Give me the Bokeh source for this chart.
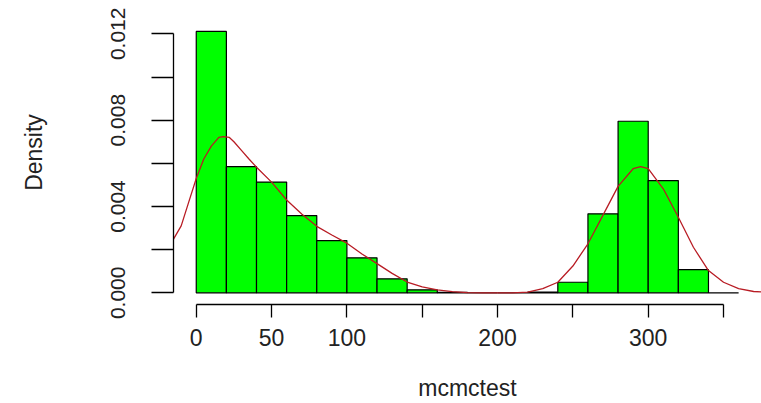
from bokeh.plotting import figure
from bokeh.models import FixedTicker, PrintfTickFormatter, Range1d
from bokeh.embed import file_html
from bokeh.resources import INLINE

# Histogram of mcmctest (density scale), bins of width 20
bin_left = [0, 20, 40, 60, 80, 100, 120, 140, 160, 180, 200, 220, 240, 260, 280, 300, 320, 340]
bin_right = [20, 40, 60, 80, 100, 120, 140, 160, 180, 200, 220, 240, 260, 280, 300, 320, 340, 360]
bin_density = [0.01211, 0.00585, 0.00513, 0.00358, 0.00242, 0.00162, 0.00065, 0.00014,
               0.00002, 0.0, 0.0, 0.00003, 0.00049, 0.00366, 0.00795, 0.0052, 0.00107, 0.0]

# Kernel density estimate (red curve)
kde_x = [-16, -15, -10, -5, 0, 5, 10, 15, 18, 22, 25, 30, 35, 40, 50, 60, 70, 80, 90, 100,
         110, 120, 130, 140, 150, 160, 170, 180, 190, 200, 210, 220, 230, 240, 250, 260,
         270, 280, 290, 295, 300, 310, 320, 330, 340, 350, 360, 370, 380]
kde_y = [0.0023, 0.0025, 0.0031, 0.0042, 0.0053, 0.0062, 0.0068, 0.0072, 0.00724, 0.0072,
         0.0070, 0.0066, 0.0062, 0.00582, 0.00513, 0.0043, 0.00365, 0.00308, 0.00268, 0.0023,
         0.0018, 0.00135, 0.0009, 0.0005, 0.00027, 0.00014, 0.00005, 0.00001, 0.0, 0.0,
         0.0, 0.00003, 0.00019, 0.00049, 0.00124, 0.00227, 0.0036, 0.00493, 0.00575, 0.00585,
         0.00575, 0.00482, 0.0035, 0.00211, 0.00103, 0.00049, 0.00019, 0.00006, 0.00002]

x_major = [0, 50, 100, 200, 300]
x_minor = [150, 250, 350]
y_major = [0.0, 0.004, 0.008, 0.012]
y_minor = [0.002, 0.006, 0.010]

FONT = "Liberation Sans"

p = figure(width=761, height=403, output_backend="svg", toolbar_location=None,
           x_range=Range1d(-15.1, 375.2), y_range=Range1d(-0.000542, 0.013545),
           min_border_left=173, min_border_right=0, min_border_top=0, min_border_bottom=99)

p.quad(left=bin_left, right=bin_right, top=bin_density, bottom=0,
       fill_color="#00ff00", line_color="black", line_width=1.2)
p.line(kde_x, kde_y, line_color="#b81c24", line_width=1.3)

p.xgrid.visible = False
p.ygrid.visible = False
p.outline_line_color = None
p.background_fill_color = "white"
p.border_fill_color = "white"

xa = p.xaxis[0]
xa.ticker = FixedTicker(ticks=x_major, minor_ticks=x_minor)
xa.bounds = (0, 350)
xa.axis_line_color = "black"
xa.axis_line_width = 1.3
xa.major_tick_out = 13
xa.major_tick_in = 0
xa.minor_tick_out = 13
xa.minor_tick_in = 0
xa.major_tick_line_width = 1.3
xa.minor_tick_line_width = 1.3
xa.major_tick_line_color = "black"
xa.minor_tick_line_color = "black"
xa.major_label_standoff = 11
xa.major_label_text_font = FONT
xa.major_label_text_font_size = "23px"
xa.major_label_text_color = "#222222"
xa.axis_label = "mcmctest"
xa.axis_label_text_font = FONT
xa.axis_label_text_font_size = "23px"
xa.axis_label_text_font_style = "normal"
xa.axis_label_text_color = "#222222"
xa.axis_label_standoff = 26

ya = p.yaxis[0]
ya.ticker = FixedTicker(ticks=y_major, minor_ticks=y_minor)
ya.formatter = PrintfTickFormatter(format="%.3f")
ya.bounds = (0, 0.012)
ya.axis_line_color = "black"
ya.axis_line_width = 1.3
ya.major_tick_out = 22
ya.major_tick_in = 0
ya.minor_tick_out = 22
ya.minor_tick_in = 0
ya.major_tick_line_width = 1.3
ya.minor_tick_line_width = 1.3
ya.major_tick_line_color = "black"
ya.minor_tick_line_color = "black"
ya.major_label_orientation = "vertical"
ya.major_label_standoff = 26
ya.major_label_text_font = FONT
ya.major_label_text_font_size = "21px"
ya.major_label_text_color = "#222222"
ya.axis_label = "Density"
ya.axis_label_text_font = FONT
ya.axis_label_text_font_size = "23px"
ya.axis_label_text_font_style = "normal"
ya.axis_label_text_color = "#222222"
ya.axis_label_standoff = 62

open("out.html", "w").write(file_html(p, INLINE))
